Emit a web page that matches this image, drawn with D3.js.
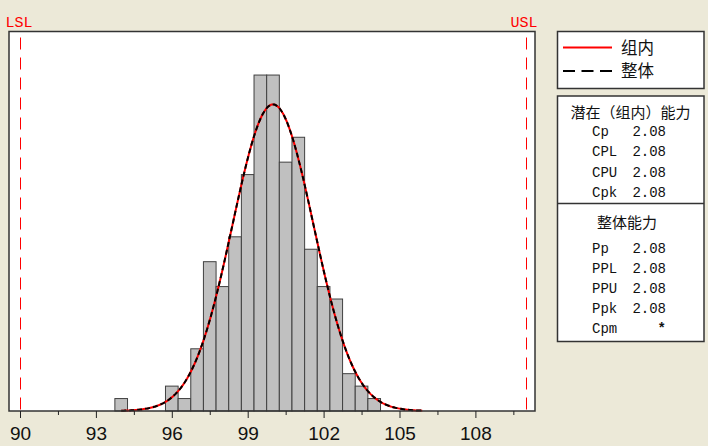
<!DOCTYPE html>
<html>
<head>
<meta charset="utf-8">
<script src="https://cdn.jsdelivr.net/npm/d3@7"></script>
<style>
    body { margin: 0; background: #ece9d8; }
    svg { display: block; }
</style>
</head>
<body>
<div id="chart"></div>
<script>
// histogram bins (midpoints, width 0.5) and counts
var binMids = [94, 94.5, 95, 95.5, 96, 96.5, 97, 97.5, 98, 98.5, 99, 99.5, 100, 100.5, 101, 101.5, 102, 102.5, 103, 103.5, 104];
var counts  = [1, 0, 0, 0, 2, 1, 5, 12, 10, 14, 19, 27, 27, 20, 22, 13, 10, 9, 3, 2, 1];
var binWidth = 0.5;

var lsl = 90, usl = 110;
var mean = 100, sdWithin = 1.603, sdOverall = 1.603;
var curveRange = [94, 105.9];

var majorTicks = [90, 93, 96, 99, 102, 105, 108];
var minorTicks = [91.5, 94.5, 97.5, 100.5, 103.5, 106.5, 109.5];

var legendNames = ["组内", "整体"];
var withinTitle = "潜在（组内）能力";
var withinRows = [["Cp", "2.08"], ["CPL", "2.08"], ["CPU", "2.08"], ["Cpk", "2.08"]];
var overallTitle = "整体能力";
var overallRows = [["Pp", "2.08"], ["PPL", "2.08"], ["PPU", "2.08"], ["Ppk", "2.08"], ["Cpm", "*"]];

var width = 708, height = 446;
var svg = d3.select("#chart").append("svg")
    .attr("width", width)
    .attr("height", height);

var x = d3.scaleLinear().domain([90, 110]).range([20, 526]);
var y = d3.scaleLinear().domain([0, 30.5]).range([411, 31.5]);

var boxL = 9, boxR = 535, boxT = 31.5, boxB = 411;

// plot area
svg.append("rect")
    .attr("x", boxL).attr("y", boxT)
    .attr("width", boxR - boxL).attr("height", boxB - boxT)
    .attr("fill", "#fff");

// bars
var bins = binMids.map(function(m, i){ return {mid: m, n: counts[i]}; })
    .filter(function(d){ return d.n > 0; });
svg.selectAll("rect.bar")
    .data(bins)
    .enter()
    .append("rect")
    .attr("class", "bar")
    .attr("x", function(d){ return x(d.mid - binWidth/2); })
    .attr("width", function(d){ return x(d.mid + binWidth/2) - x(d.mid - binWidth/2); })
    .attr("y", function(d){ return y(d.n); })
    .attr("height", function(d){ return y(0) - y(d.n); })
    .attr("fill", "#c0c0c0")
    .attr("stroke", "#404040")
    .attr("stroke-width", 1);

// fitted normal curves
var total = d3.sum(counts);
function curvePts(sd){
    var pts = [];
    for (var v = curveRange[0]; v <= curveRange[1] + 1e-9; v += 0.05) {
        var z = (v - mean) / sd;
        pts.push([v, total * binWidth * Math.exp(-0.5*z*z) / (sd * Math.sqrt(2*Math.PI))]);
    }
    return pts;
}
var line = d3.line()
    .x(function(d){ return x(d[0]); })
    .y(function(d){ return y(d[1]); })
    .curve(d3.curveLinear);

svg.append("path")
    .attr("d", line(curvePts(sdWithin)))
    .attr("fill", "none")
    .attr("stroke", "#ff0000")
    .attr("stroke-width", 2);
svg.append("path")
    .attr("d", line(curvePts(sdOverall)))
    .attr("fill", "none")
    .attr("stroke", "#000")
    .attr("stroke-width", 2)
    .attr("stroke-dasharray", "5,3");

// spec limits
[[lsl, "LSL", -1], [usl, "USL", -2]].forEach(function(s){
    var sx = Math.round(x(s[0])) + 0.5;
    svg.append("line")
        .attr("x1", sx).attr("x2", sx)
        .attr("y1", boxT + 6).attr("y2", boxB)
        .attr("stroke", "#ff0000")
        .attr("stroke-width", 1)
        .attr("stroke-dasharray", "12,8");
    svg.append("text")
        .attr("x", x(s[0]) + s[2]).attr("y", 26.5)
        .attr("text-anchor", "middle")
        .attr("font-family", "Liberation Mono")
        .attr("font-size", 15)
        .attr("fill", "#ff0000")
        .text(s[1]);
});

// plot border
svg.append("rect")
    .attr("x", boxL).attr("y", boxT)
    .attr("width", boxR - boxL).attr("height", boxB - boxT)
    .attr("fill", "none")
    .attr("stroke", "#333")
    .attr("stroke-width", 1.5);

// x axis
var axis = svg.append("g")
    .attr("transform", "translate(0," + boxB + ")")
    .call(d3.axisBottom(x).tickValues(majorTicks).tickSize(7).tickPadding(9).tickFormat(d3.format("d")));
axis.select(".domain").remove();
axis.selectAll("text")
    .attr("font-family", "Liberation Sans")
    .attr("font-size", 19)
    .attr("fill", "#111");
axis.selectAll("line").attr("stroke", "#222");

var minor = svg.append("g")
    .attr("transform", "translate(0," + boxB + ")")
    .call(d3.axisBottom(x).tickValues(minorTicks).tickSize(4).tickFormat(""));
minor.select(".domain").remove();
minor.selectAll("line").attr("stroke", "#222");

// legend box
var lg = svg.append("g");
lg.append("rect")
    .attr("x", 557.5).attr("y", 31.5).attr("width", 146.5).attr("height", 57)
    .attr("fill", "#fff").attr("stroke", "#333").attr("stroke-width", 1.5);
lg.append("line")
    .attr("x1", 563).attr("x2", 612).attr("y1", 47.5).attr("y2", 47.5)
    .attr("stroke", "#ff0000").attr("stroke-width", 2);
lg.append("line")
    .attr("x1", 563).attr("x2", 612).attr("y1", 71).attr("y2", 71)
    .attr("stroke", "#000").attr("stroke-width", 2)
    .attr("stroke-dasharray", "12,6.5");
lg.selectAll("text.lg")
    .data(legendNames)
    .enter()
    .append("text")
    .attr("x", 621)
    .attr("y", function(d, i){ return 53.5 + i*23.5; })
    .attr("font-family", "Noto Sans CJK SC")
    .attr("font-size", 16.5)
    .attr("fill", "#111")
    .text(function(d){ return d; });

// capability table
var tb = svg.append("g");
tb.append("rect")
    .attr("x", 557.5).attr("y", 96).attr("width", 146.5).attr("height", 245.5)
    .attr("fill", "#fff").attr("stroke", "#333").attr("stroke-width", 1.5);
tb.append("line")
    .attr("x1", 557.5).attr("x2", 704).attr("y1", 203.5).attr("y2", 203.5)
    .attr("stroke", "#333").attr("stroke-width", 1.5);

function section(title, rows, titleY, titleX, firstY, step){
    tb.append("text")
        .attr("x", titleX).attr("y", titleY)
        .attr("text-anchor", "middle")
        .attr("font-family", "Noto Sans CJK SC")
        .attr("font-size", 15)
        .attr("fill", "#111")
        .text(title);
    rows.forEach(function(r, i){
        tb.append("text")
            .attr("x", 592).attr("y", firstY + i*step)
            .attr("font-family", "Liberation Mono")
            .attr("font-size", 14)
            .attr("fill", "#111")
            .text(r[0]);
        tb.append("text")
            .attr("x", 666).attr("y", firstY + i*step)
            .attr("text-anchor", "end")
            .attr("font-family", "Liberation Mono")
            .attr("font-size", 14)
            .attr("font-weight", r[1] == "*" ? "bold" : "normal")
            .attr("fill", "#111")
            .text(r[1]);
    });
}
section(withinTitle, withinRows, 118, 630.5, 135.5, 20.6);
section(overallTitle, overallRows, 228, 627, 253, 20);
</script>
</body>
</html>
